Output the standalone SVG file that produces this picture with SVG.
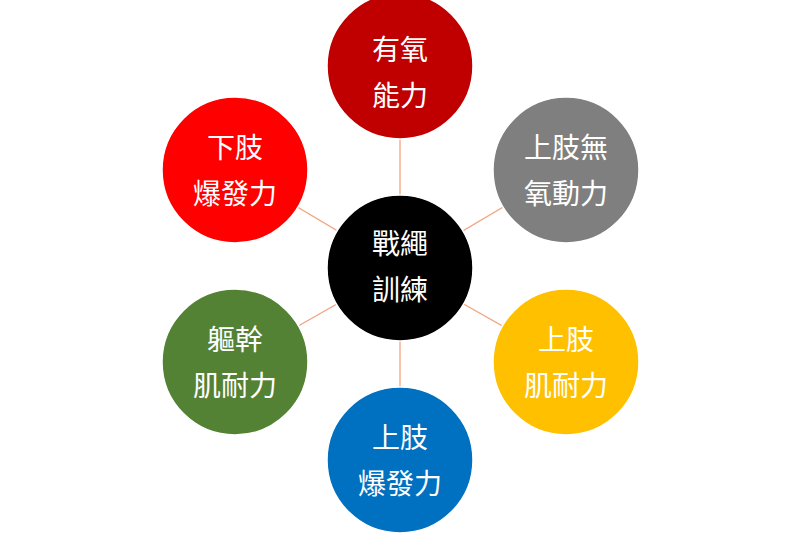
<svg xmlns="http://www.w3.org/2000/svg" width="800" height="540" viewBox="0 0 800 540">
<style>
.c{stroke:#ffffff;stroke-width:1.5}
.t{fill:#fff;font-family:"Liberation Sans","Noto Sans CJK TC",sans-serif;font-size:28px;text-anchor:middle}
.l{stroke:#f4a582;stroke-width:1.3}
</style>
<rect width="800" height="540" fill="#fff"/>
<g id="connectors">
<line class="l" x1="400" y1="268" x2="400" y2="64"/>
<line class="l" x1="400" y1="268" x2="566" y2="170"/>
<line class="l" x1="400" y1="268" x2="566" y2="362"/>
<line class="l" x1="400" y1="268" x2="400" y2="460"/>
<line class="l" x1="400" y1="268" x2="235" y2="362"/>
<line class="l" x1="400" y1="268" x2="235" y2="170"/>
</g>
<g id="top"><circle class="c" cx="400" cy="66" r="73" fill="#c00000"/><text class="t" x="400" y="60">有氧</text><text class="t" x="400" y="106">能力</text></g>
<g id="ur"><circle class="c" cx="566" cy="170" r="73" fill="#7f7f7f"/><text class="t" x="566" y="158">上肢無</text><text class="t" x="566" y="204">氧動力</text></g>
<g id="lr"><circle class="c" cx="566" cy="362" r="73" fill="#ffc000"/><text class="t" x="566" y="350">上肢</text><text class="t" x="566" y="396">肌耐力</text></g>
<g id="bottom"><circle class="c" cx="400" cy="460" r="73" fill="#0070c0"/><text class="t" x="400" y="448">上肢</text><text class="t" x="400" y="494">爆發力</text></g>
<g id="ll"><circle class="c" cx="235" cy="362" r="73" fill="#548235"/><text class="t" x="235" y="350">軀幹</text><text class="t" x="235" y="396">肌耐力</text></g>
<g id="ul"><circle class="c" cx="235" cy="170" r="73" fill="#ff0000"/><text class="t" x="235" y="158">下肢</text><text class="t" x="235" y="204">爆發力</text></g>
<g id="center"><circle class="c" cx="400" cy="268" r="73" fill="#000"/><text class="t" x="400" y="254">戰繩</text><text class="t" x="400" y="300">訓練</text></g>
</svg>
